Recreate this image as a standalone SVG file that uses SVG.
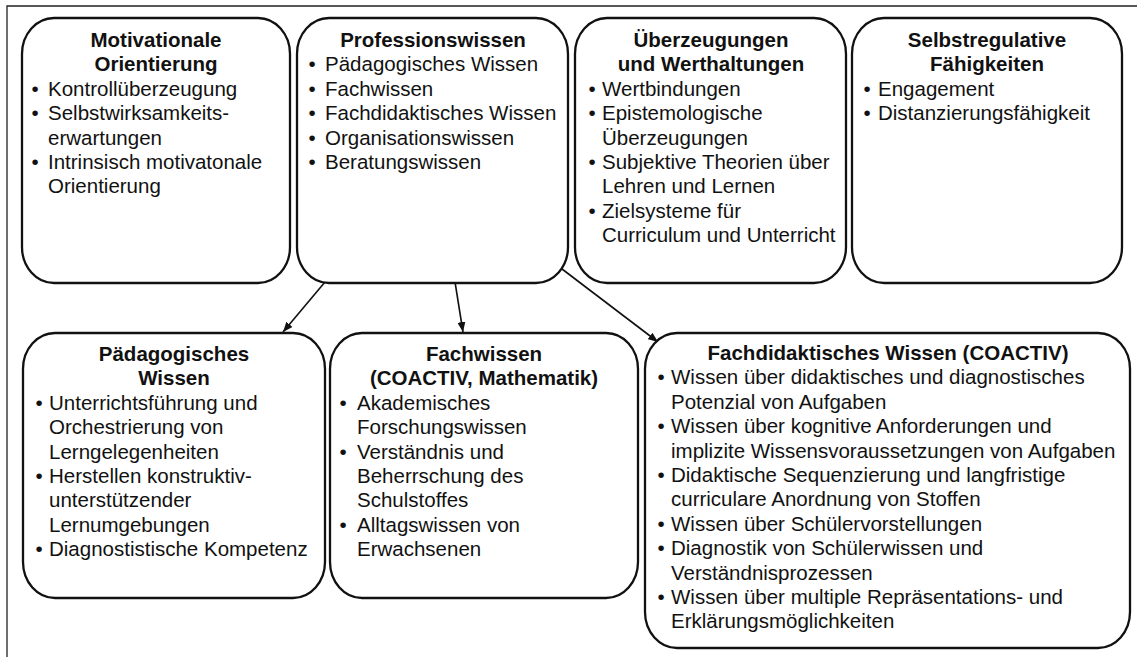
<svg xmlns="http://www.w3.org/2000/svg" width="1137" height="657" viewBox="0 0 1137 657">
<style>
.box{fill:#fff;stroke:#111;stroke-width:2.3}
.t{font-family:"Liberation Sans",Arial,sans-serif;font-size:20.5px;fill:#111}
.h{font-weight:bold;text-anchor:middle}
.frame{stroke:#222;stroke-width:1.3;fill:none}
.conn{stroke:#111;stroke-width:1.6;fill:none;marker-end:url(#ah)}
</style>
<defs>
<marker id="ah" viewBox="0 0 10 8" refX="10" refY="4" markerWidth="10" markerHeight="8" markerUnits="userSpaceOnUse" orient="auto">
<path d="M0,0 L10,4 L0,8 z" fill="#111"/>
</marker>
</defs>
<rect width="1137" height="657" fill="#fff"/>
<path class="frame" d="M7,657 V6 H1137"/>

<g id="connectors">
<line class="conn" x1="325" y1="282" x2="283" y2="332"/>
<line class="conn" x1="455" y1="282" x2="463" y2="332"/>
<line class="conn" x1="562" y1="269" x2="658" y2="342"/>
</g>

<g id="motivationale">
<rect class="box" x="22" y="18" width="268" height="265" rx="32" ry="36"/>
<text class="t h" x="156"><tspan x="156" y="47">Motivationale</tspan><tspan x="156" y="71.4">Orientierung</tspan></text>
<text class="t"><tspan x="31.4" y="95.8">•</tspan><tspan x="31.4" y="120.2">•</tspan><tspan x="31.4" y="169">•</tspan></text>
<text class="t"><tspan x="48" y="95.8">Kontrollüberzeugung</tspan><tspan x="48" y="120.2">Selbstwirksamkeits-</tspan><tspan x="48" y="144.6">erwartungen</tspan><tspan x="48" y="169">Intrinsisch motivatonale</tspan><tspan x="48" y="193.4">Orientierung</tspan></text>
</g>

<g id="professionswissen">
<rect class="box" x="297" y="18" width="271" height="265" rx="32" ry="36"/>
<text class="t h" x="433" y="47">Professionswissen</text>
<text class="t"><tspan x="308.4" y="71.4">•</tspan><tspan x="308.4" y="95.8">•</tspan><tspan x="308.4" y="120.2">•</tspan><tspan x="308.4" y="144.6">•</tspan><tspan x="308.4" y="169">•</tspan></text>
<text class="t"><tspan x="325" y="71.4">Pädagogisches Wissen</tspan><tspan x="325" y="95.8">Fachwissen</tspan><tspan x="325" y="120.2">Fachdidaktisches Wissen</tspan><tspan x="325" y="144.6">Organisationswissen</tspan><tspan x="325" y="169">Beratungswissen</tspan></text>
</g>

<g id="ueberzeugungen">
<rect class="box" x="575" y="18" width="271" height="265" rx="32" ry="36"/>
<text class="t h"><tspan x="711" y="47">Überzeugungen</tspan><tspan x="711" y="71.4">und Werthaltungen</tspan></text>
<text class="t"><tspan x="588.4" y="95.8">•</tspan><tspan x="588.4" y="120.2">•</tspan><tspan x="588.4" y="169">•</tspan><tspan x="588.4" y="217.8">•</tspan></text>
<text class="t"><tspan x="602" y="95.8">Wertbindungen</tspan><tspan x="602" y="120.2">Epistemologische</tspan><tspan x="602" y="144.6">Überzeugungen</tspan><tspan x="602" y="169">Subjektive Theorien über</tspan><tspan x="602" y="193.4">Lehren und Lernen</tspan><tspan x="602" y="217.8">Zielsysteme für</tspan><tspan x="602" y="242.2">Curriculum und Unterricht</tspan></text>
</g>

<g id="selbstregulative">
<rect class="box" x="852" y="18" width="270" height="265" rx="32" ry="36"/>
<text class="t h"><tspan x="987" y="47">Selbstregulative</tspan><tspan x="987" y="71.4">Fähigkeiten</tspan></text>
<text class="t"><tspan x="863.4" y="95.8">•</tspan><tspan x="863.4" y="120.2">•</tspan></text>
<text class="t"><tspan x="878" y="95.8">Engagement</tspan><tspan x="878" y="120.2">Distanzierungsfähigkeit</tspan></text>
</g>

<g id="paedagogisches">
<rect class="box" x="23" y="333" width="302" height="265" rx="32" ry="36"/>
<text class="t h"><tspan x="174" y="361">Pädagogisches</tspan><tspan x="174" y="385.4">Wissen</tspan></text>
<text class="t"><tspan x="35.4" y="409.8">•</tspan><tspan x="35.4" y="483">•</tspan><tspan x="35.4" y="556.2">•</tspan></text>
<text class="t"><tspan x="49" y="409.8">Unterrichtsführung und</tspan><tspan x="49" y="434.2">Orchestrierung von</tspan><tspan x="49" y="458.6">Lerngelegenheiten</tspan><tspan x="49" y="483">Herstellen konstruktiv-</tspan><tspan x="49" y="507.4">unterstützender</tspan><tspan x="49" y="531.8">Lernumgebungen</tspan><tspan x="49" y="556.2">Diagnostistische Kompetenz</tspan></text>
</g>

<g id="fachwissen">
<rect class="box" x="330" y="333" width="308" height="265" rx="32" ry="36"/>
<text class="t h"><tspan x="484" y="361">Fachwissen</tspan><tspan x="484" y="385.4">(COACTIV, Mathematik)</tspan></text>
<text class="t"><tspan x="339.4" y="409.8">•</tspan><tspan x="339.4" y="458.6">•</tspan><tspan x="339.4" y="531.8">•</tspan></text>
<text class="t"><tspan x="357" y="409.8">Akademisches</tspan><tspan x="357" y="434.2">Forschungswissen</tspan><tspan x="357" y="458.6">Verständnis und</tspan><tspan x="357" y="483">Beherrschung des</tspan><tspan x="357" y="507.4">Schulstoffes</tspan><tspan x="357" y="531.8">Alltagswissen von</tspan><tspan x="357" y="556.2">Erwachsenen</tspan></text>
</g>

<g id="fachdidaktisches">
<rect class="box" x="645" y="333" width="485" height="315" rx="32" ry="36"/>
<text class="t h" x="888" y="360">Fachdidaktisches Wissen (COACTIV)</text>
<text class="t"><tspan x="657.4" y="384.4">•</tspan><tspan x="657.4" y="433.2">•</tspan><tspan x="657.4" y="482">•</tspan><tspan x="657.4" y="530.8">•</tspan><tspan x="657.4" y="555.2">•</tspan><tspan x="657.4" y="604">•</tspan></text>
<text class="t"><tspan x="671" y="384.4">Wissen über didaktisches und diagnostisches</tspan><tspan x="671" y="408.8">Potenzial von Aufgaben</tspan><tspan x="671" y="433.2">Wissen über kognitive Anforderungen und</tspan><tspan x="671" y="457.6">implizite Wissensvoraussetzungen von Aufgaben</tspan><tspan x="671" y="482">Didaktische Sequenzierung und langfristige</tspan><tspan x="671" y="506.4">curriculare Anordnung von Stoffen</tspan><tspan x="671" y="530.8">Wissen über Schülervorstellungen</tspan><tspan x="671" y="555.2">Diagnostik von Schülerwissen und</tspan><tspan x="671" y="579.6">Verständnisprozessen</tspan><tspan x="671" y="604">Wissen über multiple Repräsentations- und</tspan><tspan x="671" y="628.4">Erklärungsmöglichkeiten</tspan></text>
</g>
</svg>
